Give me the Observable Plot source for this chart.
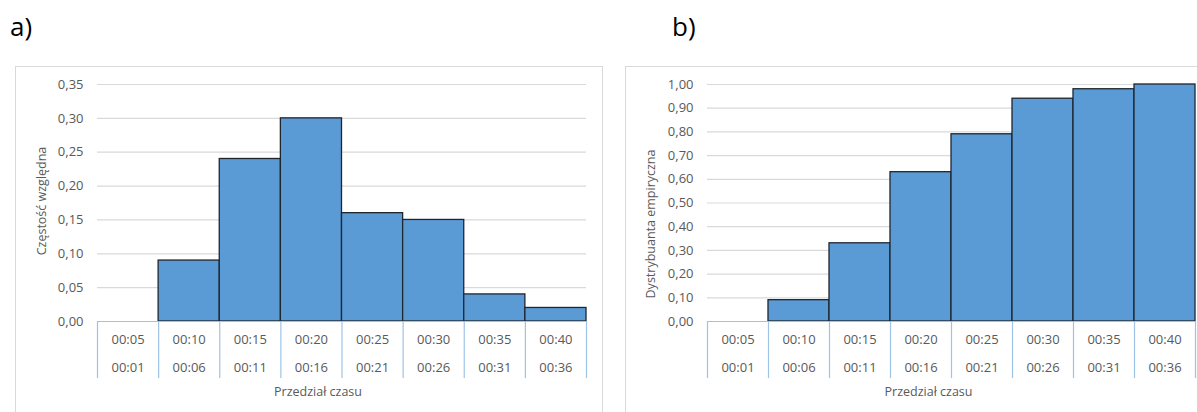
<!DOCTYPE html>
<html>
<head>
<meta charset="utf-8">
<script src="https://cdn.jsdelivr.net/npm/d3@7"></script>
<script src="https://cdn.jsdelivr.net/npm/@observablehq/plot@0.6"></script>
<style>
  html, body { margin: 0; padding: 0; background: #fff; overflow: hidden; }
  body { width: 1197px; height: 412px; position: relative; font-family: "Open Sans", sans-serif; }
  .panel-title { position: absolute; font-size: 26px; line-height: 26px; color: #000; }
  .frame { position: absolute; border: 1px solid #D9D9D9; box-sizing: border-box; pointer-events: none; }
  .chart { position: absolute; }
  .chart svg { overflow: visible; }
</style>
</head>
<body>
<div class="panel-title" style="left:10px; top:13px;">a)</div>
<div class="panel-title" style="left:672px; top:13px;">b)</div>
<div class="frame" style="left:15px; top:66px; width:588px; height:400px;"></div>
<div class="frame" style="left:625px; top:66px; width:600px; height:400px;"></div>
<div id="chartA" class="chart" style="left:15px; top:66px;"></div>
<div id="chartB" class="chart" style="left:625px; top:66px;"></div>
<script>
// ---- data ----
const intervalEnd   = ["00:05","00:10","00:15","00:20","00:25","00:30","00:35","00:40"];
const intervalStart = ["00:01","00:06","00:11","00:16","00:21","00:26","00:31","00:36"];
const relativeFrequency = [0.00, 0.09, 0.24, 0.30, 0.16, 0.15, 0.04, 0.02];
const empiricalCdf      = [0.00, 0.09, 0.33, 0.63, 0.79, 0.94, 0.98, 1.00];
const yTicksA = [0, 0.05, 0.10, 0.15, 0.20, 0.25, 0.30, 0.35];
const yTicksB = [0, 0.10, 0.20, 0.30, 0.40, 0.50, 0.60, 0.70, 0.80, 0.90, 1.00];
const xTitle = "Przedział czasu";
const yTitleA = "Częstość względna";
const yTitleB = "Dystrybuanta empiryczna";

const fmt = d => d.toFixed(2).replace(".", ",");

function makeChart({values, yTicks, yTitle, width, marginRight, yTitleDx, yTitleDy, xTitleDx}) {
  const n = values.length;
  const data = values.map((v, i) => ({i, v, top: intervalEnd[i], bottom: intervalStart[i]}));
  const boundaries = d3.range(n + 1);
  return Plot.plot({
    width,
    height: 346,
    marginLeft: 82,
    marginRight,
    marginTop: 18,
    marginBottom: 91,
    x: {domain: [0, n], axis: null},
    y: {domain: [0, yTicks[yTicks.length - 1]], axis: null},
    style: {fontFamily: "Open Sans", fontSize: "13px", color: "#595959", background: "transparent", overflow: "visible"},
    marks: [
      Plot.ruleY(yTicks.filter(t => t > 0), {stroke: "#D9D9D9", strokeWidth: 1.2}),
      Plot.rectY(data.filter(d => d.v > 0), {
        x1: "i", x2: d => d.i + 1, y: "v",
        fill: "#5B9BD5", stroke: "#1E2630", strokeWidth: 1.3
      }),
      Plot.ruleY([0], {stroke: "#9DC3E6", strokeWidth: 1.2}),
      Plot.axisX({ticks: boundaries, tickSize: 57, tickFormat: () => "", stroke: "#9DC3E6", strokeWidth: 1.2, label: null}),
      Plot.text(data, {x: d => d.i + 0.5, y: 0, dy: 18, text: "top", fill: "currentColor"}),
      Plot.text(data, {x: d => d.i + 0.5, y: 0, dy: 46, text: "bottom", fill: "currentColor"}),
      Plot.axisY({ticks: yTicks, tickSize: 0, tickPadding: 14, tickFormat: fmt, label: null}),
      Plot.text([yTitle], {frameAnchor: "left", textAnchor: "middle", rotate: -90, dx: yTitleDx, dy: yTitleDy, fontSize: 12.5, fill: "currentColor"}),
      Plot.text([xTitle], {frameAnchor: "bottom", dy: 74, dx: xTitleDx, fontSize: 12.5, fill: "currentColor"})
    ]
  });
}

document.getElementById("chartA").append(makeChart({
  values: relativeFrequency, yTicks: yTicksA, yTitle: yTitleA,
  width: 588, marginRight: 17, yTitleDx: -56, yTitleDy: -2, xTitleDx: -24
}));
document.getElementById("chartB").append(makeChart({
  values: empiricalCdf, yTicks: yTicksB, yTitle: yTitleB,
  width: 572, marginRight: 2, yTitleDx: -57, yTitleDy: 21, xTitleDx: -23
}));
</script>
</body>
</html>
